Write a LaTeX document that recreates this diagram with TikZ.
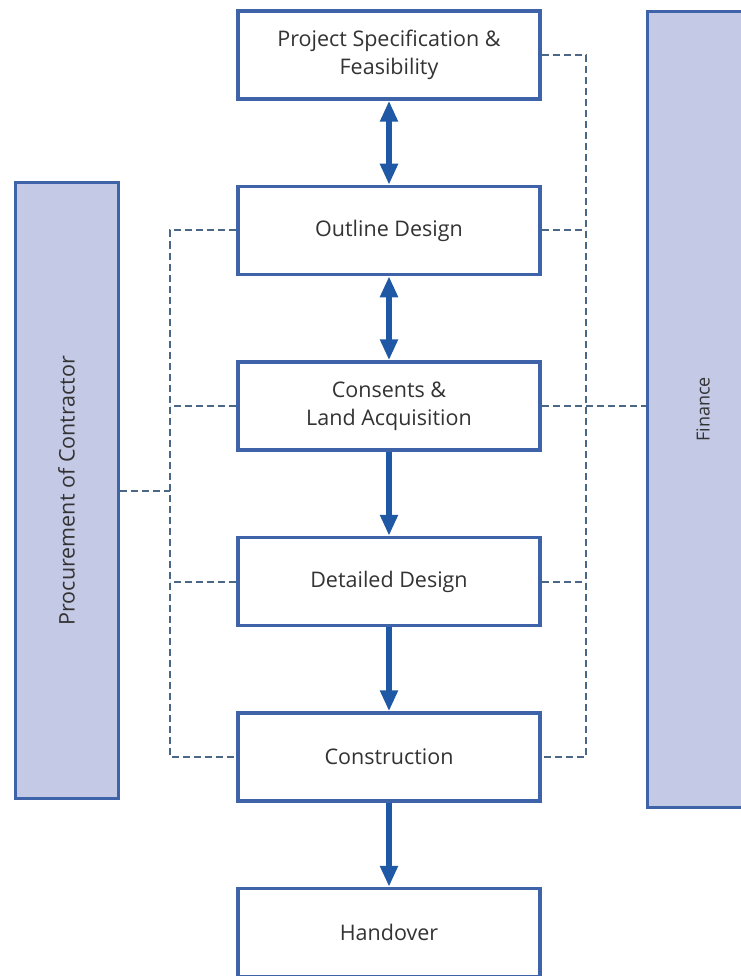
\documentclass[tikz,border=0pt]{standalone}
\usepackage{fontspec}
\setmainfont{Open Sans}
\usepackage{tikz}
\usetikzlibrary{arrows.meta,positioning}
\definecolor{stageblue}{HTML}{3E63A9}
\definecolor{flowblue}{HTML}{1F58A4}
\definecolor{sidefill}{HTML}{C4C9E5}
\definecolor{linkgrey}{HTML}{4A6785}
\definecolor{ink}{HTML}{333333}

\begin{document}
\begin{tikzpicture}[x=1pt, y=-1pt,
  node distance=84pt,
  stage/.style={draw=stageblue, line width=3.5pt, fill=white, align=center, text=ink,
                font=\fontsize{21.5}{28}\selectfont, minimum width=302pt, minimum height=88pt, inner sep=0pt},
  side/.style={draw=stageblue, line width=3pt, fill=sidefill, rotate=90, text=ink, inner sep=0pt},
  flow/.style={line width=6pt, flowblue, -{Triangle[length=21pt, width=17pt]}},
  flowboth/.style={flow, {Triangle[length=21pt, width=17pt]}-{Triangle[length=21pt, width=17pt]}},
  link/.style={linkgrey, line width=2pt, dash pattern=on 7pt off 4pt}]
  \useasboundingbox (0,0) rectangle (740,976);
  \node[stage] (spec) at (389,55) {Project Specification \&\\ Feasibility};
  \node[stage, below=of spec] (outline) {Outline Design};
  \node[stage, below=of outline] (cons) {Consents \&\\ Land Acquisition};
  \node[stage, below=of cons] (detail) {Detailed Design};
  \node[stage, below=of detail] (build) {Construction};
  \node[stage, below=of build] (hand) {Handover};
  \node[side, minimum width=615pt, minimum height=103pt, font=\fontsize{21.5}{26}\selectfont] (proc) at (66.5,490.5) {Procurement of Contractor};
  \node[side, minimum width=795pt, minimum height=112pt, font=\fontsize{18}{22}\selectfont] (fin) at (703,409.5) {Finance};
  \draw[flowboth] (spec) -- (outline);
  \draw[flowboth] (outline) -- (cons);
  \draw[flow] (cons) -- (detail);
  \draw[flow] (detail) -- (build);
  \draw[flow] (build) -- (hand);
  % dashed links to procurement
  \draw[link] (outline.west) -- ++(-66,0) coordinate (lbus) |- (build.west);
  \draw[link] (cons.west) -- (lbus |- cons.west);
  \draw[link] (detail.west) -- (lbus |- detail.west);
  \draw[link] (proc.south) -- (lbus |- proc.south);
  % dashed links to finance
  \draw[link] (spec.east) -- ++(44,0) coordinate (rbus) |- (build.east);
  \draw[link] (outline.east) -- (rbus |- outline.east);
  \draw[link] (detail.east) -- (rbus |- detail.east);
  \draw[link] (cons.east) -- (cons.east -| fin.north);
\end{tikzpicture}
\end{document}
